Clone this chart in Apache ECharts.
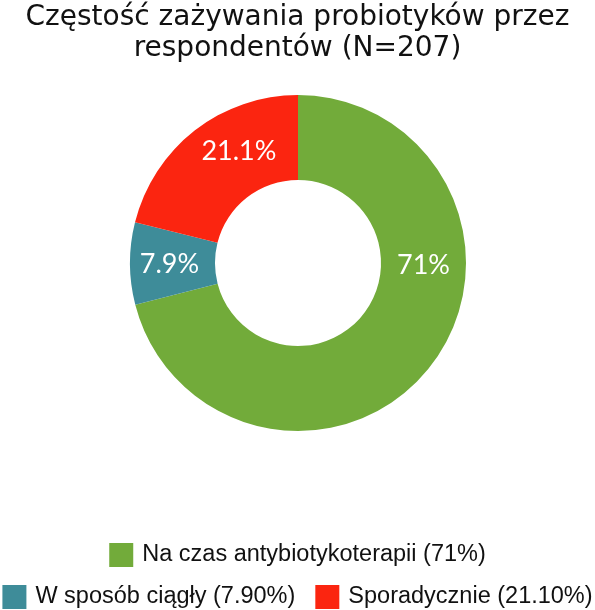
<!DOCTYPE html>
<html>
<head>
<meta charset="utf-8">
<script src="https://cdn.jsdelivr.net/npm/echarts@6/dist/echarts.min.js"></script>
<style>
  html, body { margin: 0; padding: 0; background: #fff; }
  #chart { width: 595px; height: 610px; }
</style>
</head>
<body>
<div id="chart"></div>
<script>
// dane z wykresu
const categories = ['Na czas antybiotykoterapii', 'W sposób ciągły', 'Sporadycznie']
const values = [71, 7.9, 21.1]
const sliceLabels = ['71%', '7.9%', '21.1%']
const legendLabels = ['71%', '7.90%', '21.10%']
const colors = ['#72ab3a', '#3e8c99', '#fb2510']

// przesunięcia etykiet (jak w oryginale)
const labelShift = [[24, -76], [0, 1], [20, -10]]

let myChart = echarts.init(document.getElementById('chart'))

let legendFormatter = function (name) {
  let i = categories.indexOf(name)
  return name + ' (' + legendLabels[i] + ')'
}

let legendBase = {
  orient: 'horizontal',
  left: 'center',
  padding: 0,
  itemWidth: 24,
  itemHeight: 24,
  itemGap: 20,
  icon: 'rect',
  formatter: legendFormatter,
  textStyle: {
    fontFamily: 'Liberation Sans',
    fontSize: 23.5,
    color: '#111',
    padding: [0, 0, 0, 4]
  }
}

let option = {
  color: colors,
  title: {
    text: 'Częstość zażywania probiotyków przez\nrespondentów (N=207)',
    left: 'center',
    top: 2,
    padding: [0, 0, 0, 0],
    textStyle: {
      fontFamily: 'DejaVu Sans',
      fontSize: 28,
      fontWeight: 'normal',
      color: '#111',
      lineHeight: 31
    }
  },
  legend: [
    Object.assign({}, legendBase, { top: 543, data: [categories[0]] }),
    Object.assign({}, legendBase, { top: 585, data: [categories[1], categories[2]] })
  ],
  series: [
    {
      type: 'pie',
      center: [298, 263],
      radius: [83, 168],
      startAngle: 90,
      clockwise: true,
      avoidLabelOverlap: false,
      label: {
        show: true,
        position: 'inside',
        color: '#fff',
        fontFamily: 'Lato',
        fontSize: 27,
        formatter: function (p) { return sliceLabels[p.dataIndex] }
      },
      labelLine: { show: false },
      labelLayout: function (p) {
        let s = labelShift[p.dataIndex]
        return { dx: s[0], dy: s[1] }
      },
      emphasis: { disabled: true },
      data: categories.map((c, i) => ({ name: c, value: values[i] }))
    }
  ]
}

myChart.setOption(option)
</script>
</body>
</html>
